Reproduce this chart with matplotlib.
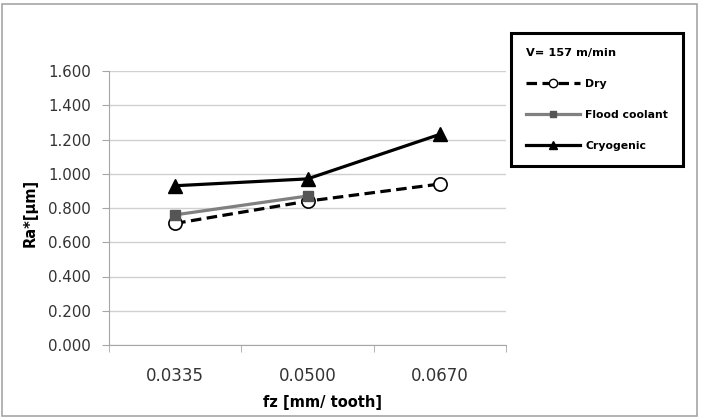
import matplotlib
matplotlib.use("Agg")
import matplotlib.pyplot as plt
from matplotlib.patches import Rectangle
from matplotlib.lines import Line2D
import numpy as np

categories = ["0.0335", "0.0500", "0.0670"]
dryValues = [0.71, 0.84, 0.94]
floodValues = [0.76, 0.87, np.nan]
cryoValues = [0.93, 0.97, 1.23]
yTicks = [0.0, 0.2, 0.4, 0.6, 0.8, 1.0, 1.2, 1.4, 1.6]

plt.rcParams["font.family"] = ["DejaVu Sans"]

fig = plt.figure(figsize=(7.02, 4.2), dpi=100)
ax = fig.add_axes([109 / 702, 75 / 420, 397 / 702, 274 / 420])

dashes = (0, (3.3, 1.7))
xs = np.arange(len(categories))
ax.plot(xs, dryValues, color="black", linestyle=dashes, linewidth=2.3,
        marker="o", markersize=9.5, markerfacecolor="white", markeredgecolor="black",
        markeredgewidth=1.2, label="Dry", zorder=3)
ax.plot(xs, floodValues, color="#808080", linewidth=2.3,
        marker="s", markersize=7.5, markerfacecolor="#555555", markeredgecolor="#555555",
        label="Flood coolant", zorder=3)
ax.plot(xs, cryoValues, color="black", linewidth=2.3,
        marker="^", markersize=9.5, markerfacecolor="black", markeredgecolor="black",
        label="Cryogenic", zorder=4)

ax.set_xlim(-0.5, len(categories) - 0.5)
ax.set_ylim(0, 1.6)
ax.set_yticks(yTicks)
ax.set_yticklabels([f"{t:.3f}" for t in yTicks], fontsize=10.8, color="#333333")
ax.set_xticks(xs)
ax.set_xticklabels(categories, fontsize=12, color="#333333")
ax.set_xticks(np.arange(-0.5, len(categories)), minor=True)
ax.tick_params(axis="x", which="major", length=0, pad=16)
ax.tick_params(axis="x", which="minor", length=5, color="#a6a6a6", direction="out")
ax.tick_params(axis="y", length=5, color="#a6a6a6", pad=8)

ax.grid(axis="y", color="#d0d0d0", linewidth=1)
ax.set_axisbelow(True)
for side in ["top", "right"]:
    ax.spines[side].set_visible(False)
for side in ["left", "bottom"]:
    ax.spines[side].set_color("#a6a6a6")

ax.set_xlabel("fz [mm/ tooth]", fontsize=10.5, fontweight="bold")
ax.set_ylabel("Ra*[\u03bcm]", fontsize=10.5, fontweight="bold")
ax.xaxis.set_label_coords(0.537, -50 / 274)
ax.yaxis.set_label_coords(-71 / 397, 0.482)

handles = [
    Line2D([], [], color="black", linestyle=dashes, linewidth=2.3, marker="o",
           markersize=6, markerfacecolor="white", markeredgecolor="black"),
    Line2D([], [], color="#808080", linewidth=2.3, marker="s", markersize=5,
           markerfacecolor="#555555", markeredgecolor="#555555"),
    Line2D([], [], color="black", linewidth=2.3, marker="^", markersize=6,
           markerfacecolor="black"),
]
leg = fig.legend(handles, ["Dry", "Flood coolant", "Cryogenic"],
                 title="V= 157 m/min", loc="upper left",
                 bbox_to_anchor=(511 / 702, 1 - 33 / 420), borderaxespad=0,
                 prop={"size": 7.8, "weight": "bold"}, handlelength=5.0,
                 handletextpad=0.5, labelspacing=1.95, borderpad=1.35,
                 fancybox=False, framealpha=1,
                 title_fontproperties={"size": 8.2, "weight": "bold"})
leg._legend_box.align = "left"
leg.get_frame().set_edgecolor("black")
leg.get_frame().set_linewidth(2.2)

fig.patches.append(Rectangle((2 / 702, 4 / 420), 695 / 702, 412 / 420,
                             transform=fig.transFigure, fill=False,
                             edgecolor="#a6a6a6", linewidth=1.2))

fig.savefig("out.png", dpi=100)
